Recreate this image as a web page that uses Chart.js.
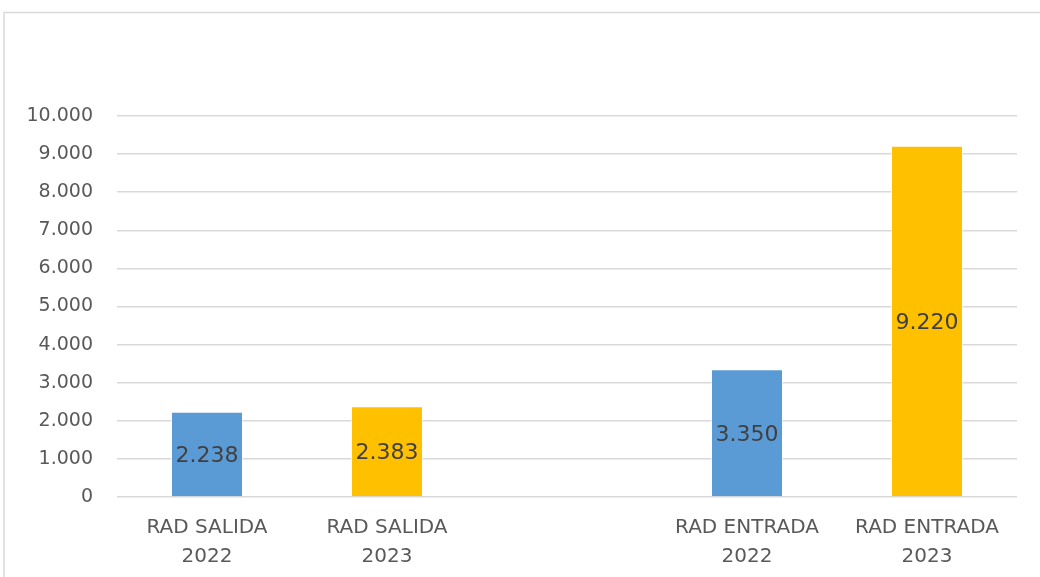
<!DOCTYPE html>
<html>
<head>
<meta charset="utf-8">
<script src="https://cdn.jsdelivr.net/npm/chart.js@4"></script>
<style>
html,body{margin:0;padding:0;background:#fff;}
#wrap{width:1040px;height:577px;position:relative;}
</style>
</head>
<body>
<div id="wrap"><canvas id="c"></canvas></div>
<script>
const categories = [["RAD SALIDA","2022"],["RAD SALIDA","2023"],"",["RAD ENTRADA","2022"],["RAD ENTRADA","2023"]];
const values2022 = [2238, null, null, 3350, null];
const values2023 = [null, 2383, null, null, 9220];
const yMin = 0, yMax = 10000, yStep = 1000;

const FONT = "'DejaVu Sans', sans-serif";
function fmt(v){ return String(Math.round(v)).replace(/\B(?=(\d{3})+(?!\d))/g, "."); }

const framePlugin = {
  id: 'frame',
  beforeDraw(chart){
    const ctx = chart.ctx;
    ctx.save();
    ctx.fillStyle = '#ffffff';
    ctx.fillRect(0,0,chart.width,chart.height);
    ctx.strokeStyle = '#d9d9d9';
    ctx.lineWidth = 1.5;
    ctx.strokeRect(4, 12.5, 1200, 800);
    ctx.restore();
  }
};

const labelPlugin = {
  id: 'vlabels',
  afterDatasetsDraw(chart){
    const ctx = chart.ctx;
    ctx.save();
    ctx.font = "22px " + FONT;
    ctx.fillStyle = '#404040';
    ctx.textAlign = 'center';
    ctx.textBaseline = 'middle';
    chart.data.datasets.forEach((ds, i) => {
      const meta = chart.getDatasetMeta(i);
      meta.data.forEach((el, j) => {
        const v = ds.data[j];
        if (v === null || v === undefined) return;
        ctx.fillText(fmt(v), el.x, (el.y + el.base) / 2 + 2);
      });
    });
    ctx.restore();
  }
};

new Chart(document.getElementById('c'), {
  type: 'bar',
  data: {
    labels: categories,
    datasets: [
      { label: '2022', data: values2022, backgroundColor: '#5B9BD5', borderColor: 'rgba(255,255,255,0.6)', borderWidth: 1, skipNull: true, barPercentage: 0.4, categoryPercentage: 1.0 },
      { label: '2023', data: values2023, backgroundColor: '#FFC000', borderColor: 'rgba(255,255,255,0.6)', borderWidth: 1, skipNull: true, barPercentage: 0.4, categoryPercentage: 1.0 }
    ]
  },
  options: {
    responsive: true,
    maintainAspectRatio: false,
    animation: false,
    devicePixelRatio: 1,
    layout: { padding: { left: 0, right: 23, top: 116, bottom: 0 } },
    plugins: { legend: { display: false }, tooltip: { enabled: false } },
    scales: {
      x: {
        grid: { display: false },
        border: { display: false },
        ticks: { color: '#595959', font: { family: FONT, size: 20, lineHeight: 1.45 }, padding: 8, maxRotation: 0, autoSkip: false },
        afterFit(s){ s.height = 80; }
      },
      y: {
        min: yMin, max: yMax,
        grid: { color: '#d9d9d9', lineWidth: 1.5, drawTicks: false },
        border: { display: false },
        ticks: { stepSize: yStep, color: '#595959', font: { family: FONT, size: 19 }, padding: 24, callback: v => fmt(v) },
        afterFit(s){ s.width = 117; }
      }
    }
  },
  plugins: [framePlugin, labelPlugin]
});
</script>
</body>
</html>
